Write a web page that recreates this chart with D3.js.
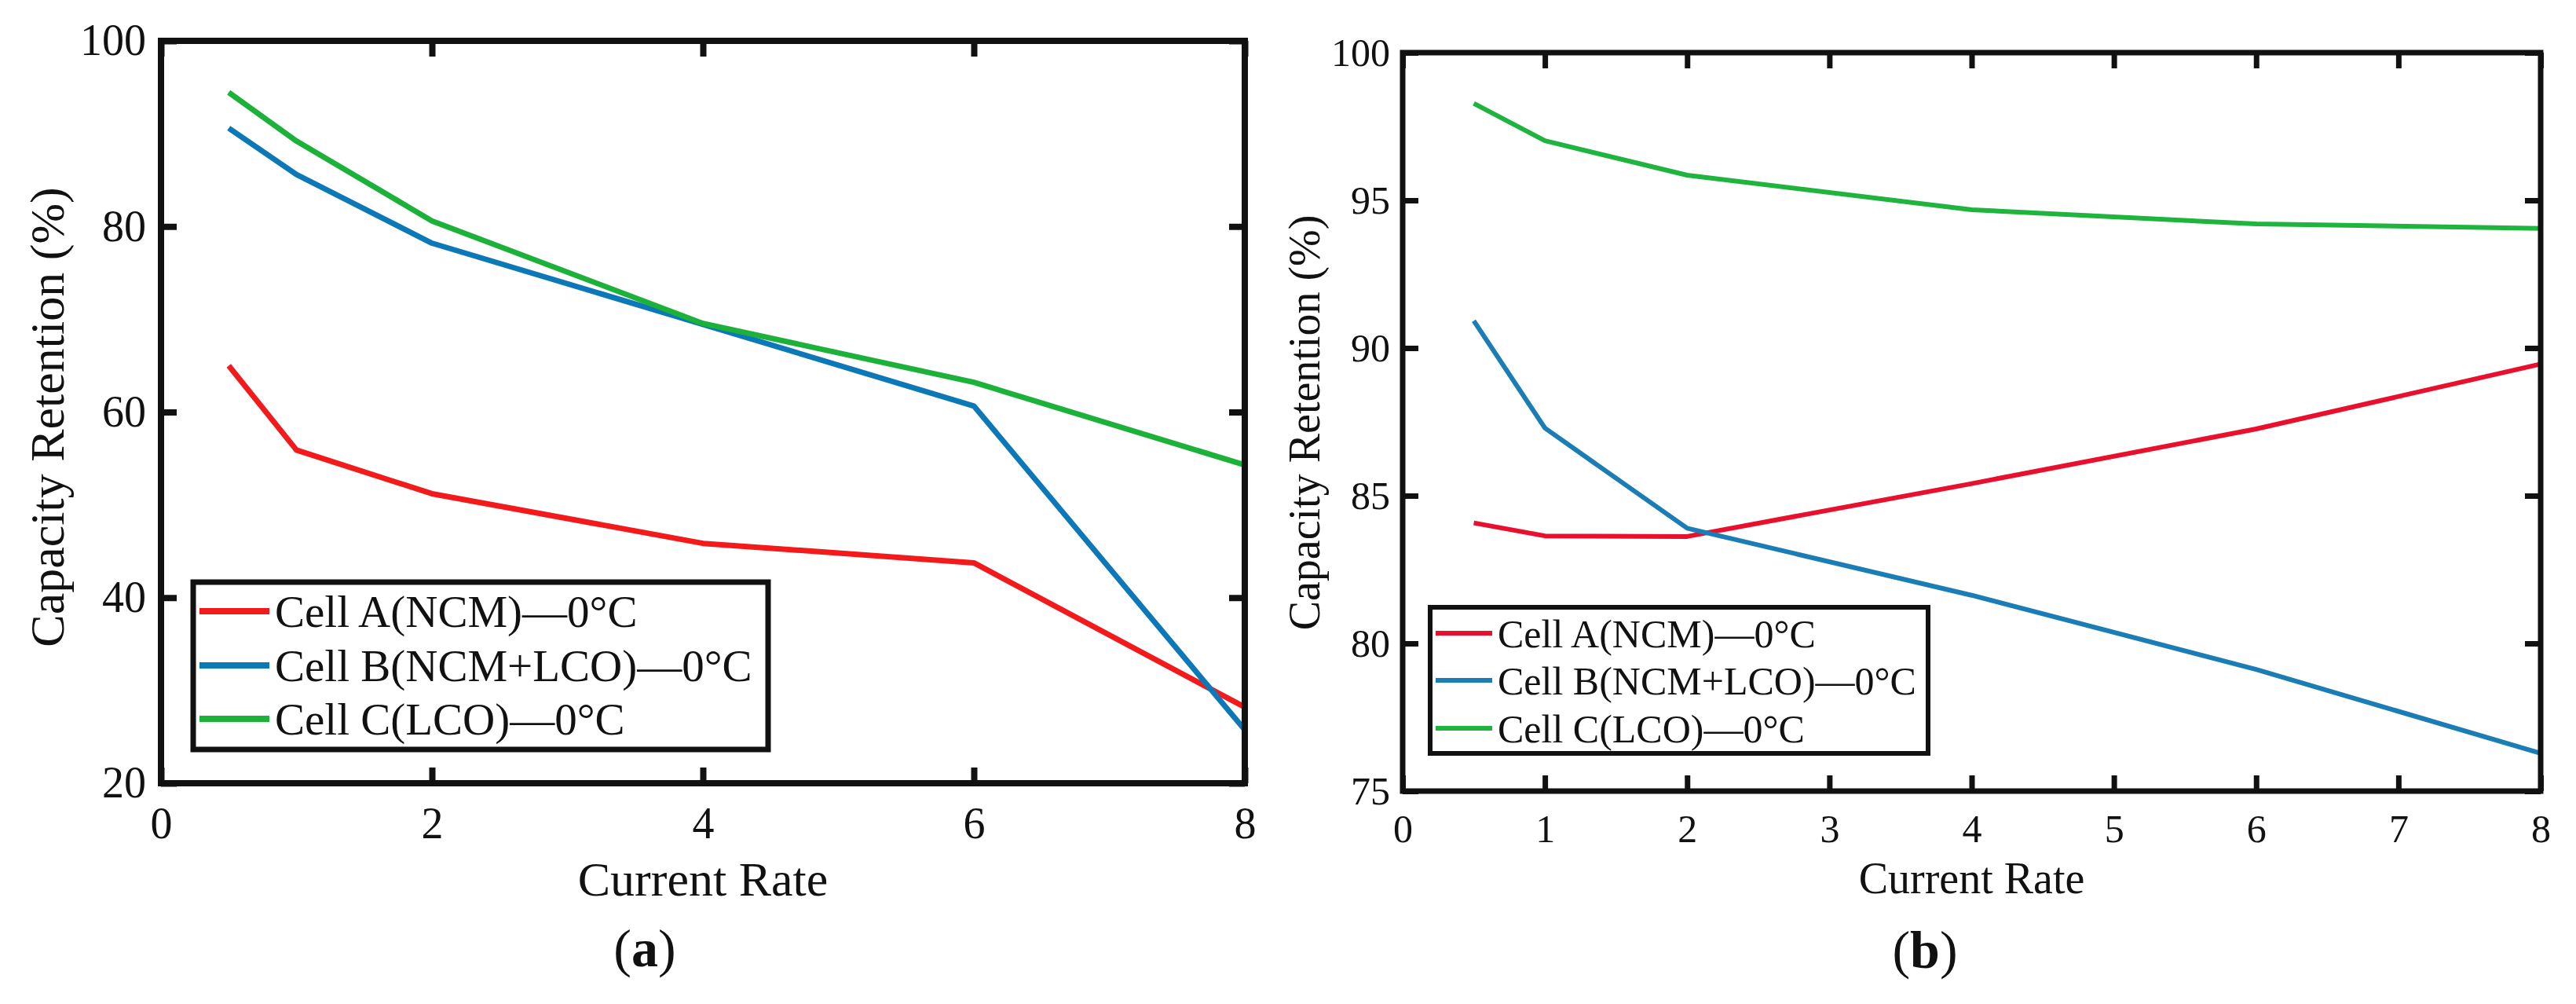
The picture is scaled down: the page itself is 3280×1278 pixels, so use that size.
<!DOCTYPE html>
<meta charset="utf-8">
<style>
body { margin: 0; background: #fff; }
text { font-family: "Liberation Serif", "Times New Roman", serif; fill: #111; }
.axis path { display: none; }
.axis line { stroke: #111; }
</style>
<svg width="3280" height="1278"></svg>
<script src="https://d3js.org/d3.v7.min.js"></script>
<script>

// C-rates where capacity was measured
var rates = [0.5, 1, 2, 4, 6, 8];

var seriesNames = ["Cell A(NCM)\u20140\u00b0C", "Cell B(NCM+LCO)\u20140\u00b0C", "Cell C(LCO)\u20140\u00b0C"];

// panel (a)
var aCellA = [65.0, 55.9, 51.2, 45.85, 43.75, 28.2];
var aCellB = [90.6, 85.6, 78.2, 69.45, 60.65, 25.75];
var aCellC = [94.45, 89.2, 80.6, 69.55, 63.2, 54.3];
var aXTicks = [0, 2, 4, 6, 8];
var aYTicks = [20, 40, 60, 80, 100];

// panel (b)
var bCellA = [84.08, 83.64, 83.62, 85.41, 87.26, 89.46];
var bCellB = [90.92, 87.29, 83.9, 81.63, 79.12, 76.28];
var bCellC = [98.28, 97.02, 95.85, 94.68, 94.2, 94.05];
var bXTicks = [0, 1, 2, 3, 4, 5, 6, 7, 8];
var bYTicks = [75, 80, 85, 90, 95, 100];

var svg = d3.select("svg");

function drawPanel(p) {
  var x = d3.scaleLinear().domain([0, 8]).range([p.left, p.right]);
  var y = d3.scaleLinear().domain(p.yDomain).range([p.bottom, p.top]);
  var g = svg.append("g");

  // data lines
  var line = d3.line()
      .x(function(d) { return x(d[0]); })
      .y(function(d) { return y(d[1]); });

  p.series.forEach(function(vals, i) {
    g.append("path")
        .datum(rates.map(function(r, j) { return [r, vals[j]]; }))
        .attr("fill", "none")
        .attr("stroke", p.colors[i])
        .attr("stroke-width", p.lineWidth)
        .attr("stroke-linejoin", "round")
        .attr("d", line);
  });

  // axes, ticks pointing inward on all four sides
  var bottom = g.append("g")
      .attr("class", "axis")
      .attr("transform", "translate(0," + p.bottom + ")")
      .call(d3.axisBottom(x).tickValues(p.xTicks).tickSizeInner(-p.tick).tickSizeOuter(0).tickPadding(p.xPad));
  var left = g.append("g")
      .attr("class", "axis")
      .attr("transform", "translate(" + p.left + ",0)")
      .call(d3.axisLeft(y).tickValues(p.yTicks).tickSizeInner(-p.tick).tickSizeOuter(0).tickPadding(p.yPad));
  g.append("g")
      .attr("class", "axis")
      .attr("transform", "translate(0," + p.top + ")")
      .call(d3.axisTop(x).tickValues(p.xTicks).tickSizeInner(-p.tick).tickSizeOuter(0).tickFormat(""));
  g.append("g")
      .attr("class", "axis")
      .attr("transform", "translate(" + p.right + ",0)")
      .call(d3.axisRight(y).tickValues(p.yTicks).tickSizeInner(-p.tick).tickSizeOuter(0).tickFormat(""));

  g.selectAll(".axis line").attr("stroke-width", p.frame);
  g.selectAll(".axis text")
      .attr("font-size", p.tickFont)
      .attr("fill", "#111");

  // frame
  g.append("rect")
      .attr("x", p.left)
      .attr("y", p.top)
      .attr("width", p.right - p.left)
      .attr("height", p.bottom - p.top)
      .attr("fill", "none")
      .attr("stroke", "#111")
      .attr("stroke-width", p.frame);

  // axis titles
  g.append("text")
      .attr("x", (p.left + p.right) / 2)
      .attr("y", p.xTitleY)
      .attr("text-anchor", "middle")
      .attr("font-size", p.titleFont)
      .text("Current Rate");

  g.append("text")
      .attr("transform", "translate(" + p.yTitleX + "," + p.yTitleMid + ") rotate(-90)")
      .attr("text-anchor", "middle")
      .attr("font-size", p.titleFont)
      .text("Capacity Retention (%)");

  // panel caption
  var cap = g.append("text")
      .attr("x", p.capX)
      .attr("y", p.capY)
      .attr("text-anchor", "middle")
      .attr("font-size", p.capFont);
  cap.append("tspan").text("(");
  cap.append("tspan").attr("font-weight", "bold").text(p.letter);
  cap.append("tspan").text(")");

  // legend
  var lg = p.legend;
  g.append("rect")
      .attr("x", lg.x)
      .attr("y", lg.y)
      .attr("width", lg.w)
      .attr("height", lg.h)
      .attr("fill", "#fff")
      .attr("stroke", "#111")
      .attr("stroke-width", lg.stroke);

  seriesNames.forEach(function(name, i) {
    var cy = lg.rowY[i];
    g.append("line")
        .attr("x1", lg.lineX0)
        .attr("x2", lg.lineX1)
        .attr("y1", cy)
        .attr("y2", cy)
        .attr("stroke", p.colors[i])
        .attr("stroke-width", lg.lineWidth);
    g.append("text")
        .attr("x", lg.textX)
        .attr("y", cy)
        .attr("dy", "0.35em")
        .attr("font-size", lg.font)
        .text(name);
  });
}

drawPanel({
  left: 205, right: 1585, top: 52, bottom: 997,
  yDomain: [20, 100],
  xTicks: aXTicks, yTicks: aYTicks,
  series: [aCellA, aCellB, aCellC],
  colors: ["#f21a1a", "#0d78b8", "#1cb23a"],
  lineWidth: 7, frame: 8, tick: 20,
  xPad: 30, yPad: 19, tickFont: 56,
  titleFont: 62, xTitleY: 1140, yTitleX: 81, yTitleMid: 531,
  capX: 821, capY: 1230, capFont: 68, letter: "a",
  legend: {
    x: 246, y: 741, w: 732, h: 213, stroke: 7,
    rowY: [778, 847, 915], lineX0: 254, lineX1: 343, lineWidth: 8,
    textX: 350, font: 57
  }
});

drawPanel({
  left: 1786, right: 3235, top: 67, bottom: 1007,
  yDomain: [75, 100],
  xTicks: bXTicks, yTicks: bYTicks,
  series: [bCellA, bCellB, bCellC],
  colors: ["#e8102c", "#1a7db6", "#1fb43e"],
  lineWidth: 6, frame: 7, tick: 20,
  xPad: 29, yPad: 16, tickFont: 50,
  titleFont: 56, xTitleY: 1137, yTitleX: 1680, yTitleMid: 538,
  capX: 2451, capY: 1232, capFont: 68, letter: "b",
  legend: {
    x: 1821, y: 773, w: 634, h: 186, stroke: 6,
    rowY: [806, 866, 927], lineX0: 1828, lineX1: 1900, lineWidth: 6,
    textX: 1907, font: 50
  }
});

</script>
